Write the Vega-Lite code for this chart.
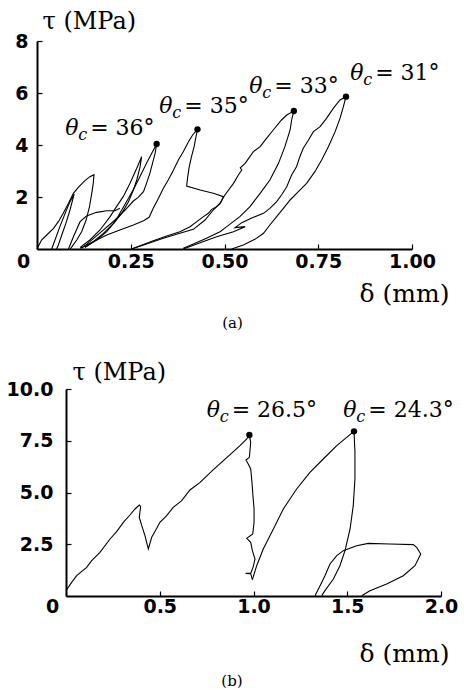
{
  "$schema": "https://vega.github.io/schema/vega-lite/v6.json",
  "padding": {"left": 6, "top": 9, "right": 5, "bottom": 0},
  "config": {
    "view": {"stroke": null},
    "axis": {
      "grid": false,
      "labelFont": "DejaVu Sans",
      "labelFontWeight": "bold",
      "labelFontSize": 19,
      "labelColor": "black",
      "labelFlush": false,
      "domainColor": "black",
      "domainWidth": 2,
      "tickColor": "black",
      "tickSize": -5,
      "tickWidth": 1.2,
      "titleFont": "DejaVu Serif",
      "titleFontSize": 24,
      "titleFontWeight": "normal",
      "titleColor": "black"
    }
  },
  "datasets": {
    "la": [
      {"s":"a1","i":0,"x":0,"y":0},{"s":"a1","i":1,"x":0.012,"y":0.346},{"s":"a1","i":2,"x":0.026,"y":0.538},{"s":"a1","i":3,"x":0.044,"y":0.795},{"s":"a1","i":4,"x":0.057,"y":1.051},{"s":"a1","i":5,"x":0.070,"y":1.372},{"s":"a1","i":6,"x":0.084,"y":1.756},{"s":"a1","i":7,"x":0.097,"y":2.141},{"s":"a1","i":8,"x":0.110,"y":2.372},{"s":"a1","i":9,"x":0.128,"y":2.628},{"s":"a1","i":10,"x":0.141,"y":2.782},{"s":"a1","i":11,"x":0.152,"y":2.859},{"s":"a1","i":12,"x":0.150,"y":2.526},{"s":"a1","i":13,"x":0.146,"y":2.141},{"s":"a1","i":14,"x":0.140,"y":1.628},{"s":"a1","i":15,"x":0.131,"y":1.115},{"s":"a1","i":16,"x":0.119,"y":0.667},{"s":"a1","i":17,"x":0.106,"y":0.346},{"s":"a1","i":18,"x":0.092,"y":0.064},{"s":"a1","i":19,"x":0.088,"y":0},
      {"s":"a2","i":0,"x":0.039,"y":0},{"s":"a2","i":1,"x":0.048,"y":0.346},{"s":"a2","i":2,"x":0.061,"y":0.859},{"s":"a2","i":3,"x":0.075,"y":1.372},{"s":"a2","i":4,"x":0.088,"y":1.821},{"s":"a2","i":5,"x":0.099,"y":2.115},{"s":"a2","i":6,"x":0.095,"y":1.885},{"s":"a2","i":7,"x":0.088,"y":1.5},{"s":"a2","i":8,"x":0.077,"y":0.987},{"s":"a2","i":9,"x":0.066,"y":0.538},{"s":"a2","i":10,"x":0.057,"y":0.154},{"s":"a2","i":11,"x":0.052,"y":0},
      {"s":"a3","i":0,"x":0.084,"y":0},{"s":"a3","i":1,"x":0.097,"y":0.474},{"s":"a3","i":2,"x":0.115,"y":1.051},{"s":"a3","i":3,"x":0.132,"y":1.269},{"s":"a3","i":4,"x":0.159,"y":1.41},{"s":"a3","i":5,"x":0.186,"y":1.474},{"s":"a3","i":6,"x":0.208,"y":1.474},{"s":"a3","i":7,"x":0.221,"y":1.564},
      {"s":"a4","i":0,"x":0.115,"y":0.064},{"s":"a4","i":1,"x":0.141,"y":0.346},{"s":"a4","i":2,"x":0.168,"y":0.731},{"s":"a4","i":3,"x":0.195,"y":1.244},{"s":"a4","i":4,"x":0.212,"y":1.628},{"s":"a4","i":5,"x":0.230,"y":2.013},{"s":"a4","i":6,"x":0.248,"y":2.526},{"s":"a4","i":7,"x":0.266,"y":3.103},{"s":"a4","i":8,"x":0.279,"y":3.551},{"s":"a4","i":9,"x":0.275,"y":3.167},{"s":"a4","i":10,"x":0.266,"y":2.654},{"s":"a4","i":11,"x":0.257,"y":2.269},{"s":"a4","i":12,"x":0.244,"y":1.821},{"s":"a4","i":13,"x":0.226,"y":1.372},{"s":"a4","i":14,"x":0.204,"y":0.987},{"s":"a4","i":15,"x":0.177,"y":0.603},{"s":"a4","i":16,"x":0.150,"y":0.282},{"s":"a4","i":17,"x":0.128,"y":0.064},
      {"s":"a5","i":0,"x":0.128,"y":0.064},{"s":"a5","i":1,"x":0.159,"y":0.346},{"s":"a5","i":2,"x":0.186,"y":0.667},{"s":"a5","i":3,"x":0.208,"y":1.051},{"s":"a5","i":4,"x":0.226,"y":1.5},{"s":"a5","i":5,"x":0.244,"y":1.949},{"s":"a5","i":6,"x":0.261,"y":2.397},{"s":"a5","i":7,"x":0.279,"y":2.91},{"s":"a5","i":8,"x":0.292,"y":3.295},{"s":"a5","i":9,"x":0.306,"y":3.679},{"s":"a5","i":10,"x":0.319,"y":4.038},{"s":"a5","i":11,"x":0.315,"y":3.679},{"s":"a5","i":12,"x":0.308,"y":3.295},{"s":"a5","i":13,"x":0.301,"y":2.91},{"s":"a5","i":14,"x":0.292,"y":2.526},{"s":"a5","i":15,"x":0.284,"y":2.205},{"s":"a5","i":16,"x":0.270,"y":1.987},{"s":"a5","i":17,"x":0.257,"y":1.846},{"s":"a5","i":18,"x":0.235,"y":1.5},{"s":"a5","i":19,"x":0.208,"y":1.115},{"s":"a5","i":20,"x":0.172,"y":0.667},{"s":"a5","i":21,"x":0.141,"y":0.282},{"s":"a5","i":22,"x":0.119,"y":0.026},
      {"s":"a6","i":0,"x":0.115,"y":0.026},{"s":"a6","i":1,"x":0.150,"y":0.282},{"s":"a6","i":2,"x":0.186,"y":0.538},{"s":"a6","i":3,"x":0.221,"y":0.731},{"s":"a6","i":4,"x":0.257,"y":0.923},{"s":"a6","i":5,"x":0.284,"y":1.09},{"s":"a6","i":6,"x":0.299,"y":1.218},{"s":"a6","i":7,"x":0.310,"y":1.564},{"s":"a6","i":8,"x":0.324,"y":1.949},{"s":"a6","i":9,"x":0.337,"y":2.333},{"s":"a6","i":10,"x":0.350,"y":2.654},{"s":"a6","i":11,"x":0.364,"y":3.038},{"s":"a6","i":12,"x":0.377,"y":3.423},{"s":"a6","i":13,"x":0.390,"y":3.744},{"s":"a6","i":14,"x":0.404,"y":4.128},{"s":"a6","i":15,"x":0.415,"y":4.385},{"s":"a6","i":16,"x":0.428,"y":4.603},{"s":"a6","i":17,"x":0.424,"y":4.321},{"s":"a6","i":18,"x":0.419,"y":3.936},{"s":"a6","i":19,"x":0.412,"y":3.551},{"s":"a6","i":20,"x":0.406,"y":3.167},{"s":"a6","i":21,"x":0.402,"y":2.782},{"s":"a6","i":22,"x":0.399,"y":2.423},{"s":"a6","i":23,"x":0.435,"y":2.269},{"s":"a6","i":24,"x":0.470,"y":2.141},{"s":"a6","i":25,"x":0.497,"y":2.013},{"s":"a6","i":26,"x":0.490,"y":1.782},{"s":"a6","i":27,"x":0.479,"y":1.628},{"s":"a6","i":28,"x":0.466,"y":1.526},{"s":"a6","i":29,"x":0.457,"y":1.372},{"s":"a6","i":30,"x":0.444,"y":1.244},{"s":"a6","i":31,"x":0.426,"y":1.051},{"s":"a6","i":32,"x":0.408,"y":0.859},{"s":"a6","i":33,"x":0.381,"y":0.667},{"s":"a6","i":34,"x":0.346,"y":0.5},{"s":"a6","i":35,"x":0.310,"y":0.321},{"s":"a6","i":36,"x":0.275,"y":0.128},{"s":"a6","i":37,"x":0.252,"y":0},
      {"s":"a7","i":0,"x":0.252,"y":0},{"s":"a7","i":1,"x":0.292,"y":0.192},{"s":"a7","i":2,"x":0.337,"y":0.41},{"s":"a7","i":3,"x":0.381,"y":0.603},{"s":"a7","i":4,"x":0.417,"y":0.756},{"s":"a7","i":5,"x":0.448,"y":1.115},{"s":"a7","i":6,"x":0.470,"y":1.5},{"s":"a7","i":7,"x":0.488,"y":1.756},{"s":"a7","i":8,"x":0.501,"y":2.077},{"s":"a7","i":9,"x":0.524,"y":2.526},{"s":"a7","i":10,"x":0.537,"y":2.846},{"s":"a7","i":11,"x":0.546,"y":3.038},{"s":"a7","i":12,"x":0.542,"y":3.12},{"s":"a7","i":13,"x":0.555,"y":3.295},{"s":"a7","i":14,"x":0.577,"y":3.744},{"s":"a7","i":15,"x":0.595,"y":3.936},{"s":"a7","i":16,"x":0.612,"y":4.256},{"s":"a7","i":17,"x":0.630,"y":4.577},{"s":"a7","i":18,"x":0.652,"y":4.962},{"s":"a7","i":19,"x":0.666,"y":5.154},{"s":"a7","i":20,"x":0.685,"y":5.308},{"s":"a7","i":21,"x":0.679,"y":4.962},{"s":"a7","i":22,"x":0.675,"y":4.577},{"s":"a7","i":23,"x":0.661,"y":3.936},{"s":"a7","i":24,"x":0.644,"y":3.295},{"s":"a7","i":25,"x":0.621,"y":2.654},{"s":"a7","i":26,"x":0.595,"y":2.141},{"s":"a7","i":27,"x":0.568,"y":1.628},{"s":"a7","i":28,"x":0.541,"y":1.244},{"s":"a7","i":29,"x":0.506,"y":0.859},{"s":"a7","i":30,"x":0.488,"y":0.667},{"s":"a7","i":31,"x":0.452,"y":0.41},{"s":"a7","i":32,"x":0.417,"y":0.192},{"s":"a7","i":33,"x":0.390,"y":0.026},
      {"s":"a8","i":0,"x":0.390,"y":0},{"s":"a8","i":1,"x":0.435,"y":0.244},{"s":"a8","i":2,"x":0.479,"y":0.474},{"s":"a8","i":3,"x":0.524,"y":0.667},{"s":"a8","i":4,"x":0.555,"y":0.859},{"s":"a8","i":5,"x":0.528,"y":0.821},{"s":"a8","i":6,"x":0.546,"y":1.013},{"s":"a8","i":7,"x":0.577,"y":1.218},{"s":"a8","i":8,"x":0.604,"y":1.372},{"s":"a8","i":9,"x":0.621,"y":1.564},{"s":"a8","i":10,"x":0.639,"y":1.821},{"s":"a8","i":11,"x":0.652,"y":2.077},{"s":"a8","i":12,"x":0.666,"y":2.397},{"s":"a8","i":13,"x":0.679,"y":2.846},{"s":"a8","i":14,"x":0.692,"y":3.167},{"s":"a8","i":15,"x":0.701,"y":3.551},{"s":"a8","i":16,"x":0.710,"y":3.872},{"s":"a8","i":17,"x":0.724,"y":4.192},{"s":"a8","i":18,"x":0.737,"y":4.513},{"s":"a8","i":19,"x":0.755,"y":4.705},{"s":"a8","i":20,"x":0.772,"y":5.026},{"s":"a8","i":21,"x":0.790,"y":5.41},{"s":"a8","i":22,"x":0.808,"y":5.731},{"s":"a8","i":23,"x":0.824,"y":5.859},{"s":"a8","i":24,"x":0.817,"y":5.474},{"s":"a8","i":25,"x":0.808,"y":5.026},{"s":"a8","i":26,"x":0.795,"y":4.513},{"s":"a8","i":27,"x":0.777,"y":3.936},{"s":"a8","i":28,"x":0.759,"y":3.423},{"s":"a8","i":29,"x":0.741,"y":2.974},{"s":"a8","i":30,"x":0.719,"y":2.526},{"s":"a8","i":31,"x":0.697,"y":2.205},{"s":"a8","i":32,"x":0.675,"y":1.885},{"s":"a8","i":33,"x":0.657,"y":1.564},{"s":"a8","i":34,"x":0.639,"y":1.244},{"s":"a8","i":35,"x":0.621,"y":0.923},{"s":"a8","i":36,"x":0.604,"y":0.603},{"s":"a8","i":37,"x":0.581,"y":0.372},{"s":"a8","i":38,"x":0.550,"y":0.154},{"s":"a8","i":39,"x":0.519,"y":0}
    ],
    "da": [
      {"x":0.319,"y":4.038},{"x":0.428,"y":4.603},{"x":0.685,"y":5.308},{"x":0.824,"y":5.859}
    ],
    "ta": [
      {"x":0.075,"y":4.38,"t":"= 36°"},{"x":0.326,"y":5.22,"t":"= 35°"},{"x":0.566,"y":5.99,"t":"= 33°"},{"x":0.835,"y":6.5,"t":"= 31°"}
    ],
    "lb": [
      {"s":"b1","i":0,"x":0,"y":0.258},{"s":"b1","i":1,"x":0.030,"y":0.66},{"s":"b1","i":2,"x":0.057,"y":0.982},{"s":"b1","i":3,"x":0.110,"y":1.385},{"s":"b1","i":4,"x":0.137,"y":1.707},{"s":"b1","i":5,"x":0.181,"y":2.109},{"s":"b1","i":6,"x":0.235,"y":2.754},{"s":"b1","i":7,"x":0.270,"y":3.108},{"s":"b1","i":8,"x":0.306,"y":3.559},{"s":"b1","i":9,"x":0.341,"y":3.913},{"s":"b1","i":10,"x":0.368,"y":4.203},{"s":"b1","i":11,"x":0.391,"y":4.396},{"s":"b1","i":12,"x":0.398,"y":4.332},{"s":"b1","i":13,"x":0.391,"y":3.8},{"s":"b1","i":14,"x":0.404,"y":3.398},{"s":"b1","i":15,"x":0.421,"y":2.915},{"s":"b1","i":16,"x":0.439,"y":2.271},{"s":"b1","i":17,"x":0.457,"y":2.834},{"s":"b1","i":18,"x":0.484,"y":3.269},{"s":"b1","i":19,"x":0.501,"y":3.559},{"s":"b1","i":20,"x":0.537,"y":3.881},{"s":"b1","i":21,"x":0.572,"y":4.283},{"s":"b1","i":22,"x":0.617,"y":4.605},{"s":"b1","i":23,"x":0.661,"y":5.121},{"s":"b1","i":24,"x":0.715,"y":5.491},{"s":"b1","i":25,"x":0.786,"y":6.103},{"s":"b1","i":26,"x":0.875,"y":6.828},{"s":"b1","i":27,"x":0.928,"y":7.262},{"s":"b1","i":28,"x":0.964,"y":7.585},{"s":"b1","i":29,"x":0.978,"y":7.778},{"s":"b1","i":30,"x":0.985,"y":7.424},{"s":"b1","i":31,"x":0.978,"y":6.699},{"s":"b1","i":32,"x":0.960,"y":6.57},{"s":"b1","i":33,"x":0.972,"y":6.377},{"s":"b1","i":34,"x":0.985,"y":6.135},{"s":"b1","i":35,"x":0.992,"y":5.491},{"s":"b1","i":36,"x":0.997,"y":4.847},{"s":"b1","i":37,"x":1.003,"y":4.203},{"s":"b1","i":38,"x":1.003,"y":3.559},{"s":"b1","i":39,"x":0.996,"y":2.995},{"s":"b1","i":40,"x":0.964,"y":2.786},{"s":"b1","i":41,"x":0.985,"y":2.593},{"s":"b1","i":42,"x":0.994,"y":2.19},{"s":"b1","i":43,"x":1.008,"y":1.787},{"s":"b1","i":44,"x":0.999,"y":1.433},{"s":"b1","i":45,"x":0.985,"y":1.095},{"s":"b1","i":46,"x":0.958,"y":1.095},{"s":"b1","i":47,"x":0.985,"y":1.079},{"s":"b1","i":48,"x":0.994,"y":0.789},
      {"s":"b2","i":0,"x":0.994,"y":0.789},{"s":"b2","i":1,"x":1.017,"y":1.465},{"s":"b2","i":2,"x":1.052,"y":2.271},{"s":"b2","i":3,"x":1.106,"y":3.237},{"s":"b2","i":4,"x":1.159,"y":4.203},{"s":"b2","i":5,"x":1.230,"y":5.169},{"s":"b2","i":6,"x":1.301,"y":5.974},{"s":"b2","i":7,"x":1.372,"y":6.618},{"s":"b2","i":8,"x":1.444,"y":7.262},{"s":"b2","i":9,"x":1.497,"y":7.665},{"s":"b2","i":10,"x":1.536,"y":7.955},{"s":"b2","i":11,"x":1.541,"y":6.94},{"s":"b2","i":12,"x":1.541,"y":5.652},{"s":"b2","i":13,"x":1.532,"y":4.364},{"s":"b2","i":14,"x":1.515,"y":3.237},{"s":"b2","i":15,"x":1.488,"y":2.19},{"s":"b2","i":16,"x":1.461,"y":1.465},{"s":"b2","i":17,"x":1.426,"y":0.821},{"s":"b2","i":18,"x":1.381,"y":0.258},{"s":"b2","i":19,"x":1.364,"y":0.016},
      {"s":"b3","i":0,"x":1.328,"y":0.016},{"s":"b3","i":1,"x":1.355,"y":0.499},{"s":"b3","i":2,"x":1.381,"y":0.982},{"s":"b3","i":3,"x":1.408,"y":1.546},{"s":"b3","i":4,"x":1.444,"y":1.948},{"s":"b3","i":5,"x":1.479,"y":2.19},{"s":"b3","i":6,"x":1.550,"y":2.432},{"s":"b3","i":7,"x":1.612,"y":2.544},{"s":"b3","i":8,"x":1.728,"y":2.512},{"s":"b3","i":9,"x":1.852,"y":2.48},{"s":"b3","i":10,"x":1.870,"y":2.351},{"s":"b3","i":11,"x":1.892,"y":2.029},{"s":"b3","i":12,"x":1.861,"y":1.465},{"s":"b3","i":13,"x":1.799,"y":0.982},{"s":"b3","i":14,"x":1.710,"y":0.58},{"s":"b3","i":15,"x":1.621,"y":0.258},{"s":"b3","i":16,"x":1.577,"y":0.016}
    ],
    "db": [
      {"x":0.978,"y":7.778},{"x":1.536,"y":7.955}
    ],
    "tb": [
      {"x":0.75,"y":8.63,"t":"= 26.5°"},{"x":1.479,"y":8.63,"t":"= 24.3°"}
    ]
  },
  "concat": [
    {
      "width": 375,
      "height": 208,
      "title": {"text": "(a)", "orient": "bottom", "anchor": "middle", "font": "DejaVu Serif", "fontSize": 15, "fontWeight": "normal", "color": "black", "dx": 8, "offset": 10},
      "encoding": {
        "x": {"field": "x", "type": "quantitative", "scale": {"domain": [0, 1], "nice": false, "zero": false},
          "axis": {"values": [0, 0.25, 0.5, 0.75, 1], "labelExpr": "datum.value == 0 ? '0' : format(datum.value, '.2f')",
            "labelOffset": {"condition": {"test": "datum.value == 0", "value": -14}, "value": 0},
            "labelPadding": 8, "title": "δ (mm)", "titleFontSize": 25, "titleAlign": "right", "titleBaseline": "alphabetic", "titleX": 412, "titleY": 52}},
        "y": {"field": "y", "type": "quantitative", "scale": {"domain": [0, 8], "nice": false, "zero": false},
          "axis": {"values": [2, 4, 6, 8], "format": "d", "labelPadding": 14, "title": "τ (MPa)", "titleAngle": 0, "titleAlign": "left", "titleBaseline": "alphabetic", "titleX": 5, "titleY": -13}}
      },
      "layer": [
        {"data": {"name": "la"}, "mark": {"type": "line", "color": "black", "strokeWidth": 1.1}, "encoding": {"detail": {"field": "s"}, "order": {"field": "i", "type": "quantitative"}}},
        {"data": {"name": "da"}, "mark": {"type": "circle", "color": "black", "size": 40, "opacity": 1}},
        {"data": {"name": "ta"}, "mark": {"type": "text", "align": "left", "baseline": "alphabetic", "font": "DejaVu Serif", "fontStyle": "italic", "fontSize": 22, "color": "black"}, "encoding": {"text": {"value": "θ"}}},
        {"data": {"name": "ta"}, "mark": {"type": "text", "align": "left", "baseline": "alphabetic", "font": "DejaVu Serif", "fontStyle": "italic", "fontSize": 16, "color": "black", "dx": 13, "dy": 5}, "encoding": {"text": {"value": "c"}}},
        {"data": {"name": "ta"}, "mark": {"type": "text", "align": "left", "baseline": "alphabetic", "font": "DejaVu Serif", "fontSize": 22, "color": "black", "dx": 25}, "encoding": {"text": {"field": "t"}}}
      ]
    },
    {
      "width": 404,
      "height": 207,
      "title": {"text": "(b)", "orient": "bottom", "anchor": "middle", "font": "DejaVu Serif", "fontSize": 15, "fontWeight": "normal", "color": "black", "dx": -7, "offset": 8},
      "encoding": {
        "x": {"field": "x", "type": "quantitative", "scale": {"domain": [0, 2], "nice": false, "zero": false, "range": [29, 404]},
          "axis": {"values": [0, 0.5, 1, 1.5, 2], "labelExpr": "datum.value == 0 ? '0' : format(datum.value, '.1f')",
            "labelOffset": {"condition": {"test": "datum.value == 0", "value": -14}, "value": 0},
            "labelPadding": 6, "title": "δ (mm)", "titleFontSize": 25, "titleAlign": "right", "titleBaseline": "alphabetic", "titleX": 412, "titleY": 65}},
        "y": {"field": "y", "type": "quantitative", "scale": {"domain": [0, 10], "nice": false, "zero": false},
          "axis": {"values": [2.5, 5, 7.5, 10], "format": ".1f", "offset": -29, "labelPadding": 18, "title": "τ (MPa)", "titleAngle": 0, "titleAlign": "left", "titleBaseline": "alphabetic", "titleX": 6, "titleY": -10}}
      },
      "layer": [
        {"data": {"name": "lb"}, "mark": {"type": "line", "color": "black", "strokeWidth": 1.1}, "encoding": {"detail": {"field": "s"}, "order": {"field": "i", "type": "quantitative"}}},
        {"data": {"name": "db"}, "mark": {"type": "circle", "color": "black", "size": 40, "opacity": 1}},
        {"data": {"name": "tb"}, "mark": {"type": "text", "align": "left", "baseline": "alphabetic", "font": "DejaVu Serif", "fontStyle": "italic", "fontSize": 22, "color": "black"}, "encoding": {"text": {"value": "θ"}}},
        {"data": {"name": "tb"}, "mark": {"type": "text", "align": "left", "baseline": "alphabetic", "font": "DejaVu Serif", "fontStyle": "italic", "fontSize": 16, "color": "black", "dx": 13, "dy": 5}, "encoding": {"text": {"value": "c"}}},
        {"data": {"name": "tb"}, "mark": {"type": "text", "align": "left", "baseline": "alphabetic", "font": "DejaVu Serif", "fontSize": 22, "color": "black", "dx": 25}, "encoding": {"text": {"field": "t"}}}
      ]
    }
  ],
  "columns": 1,
  "spacing": 29
}
